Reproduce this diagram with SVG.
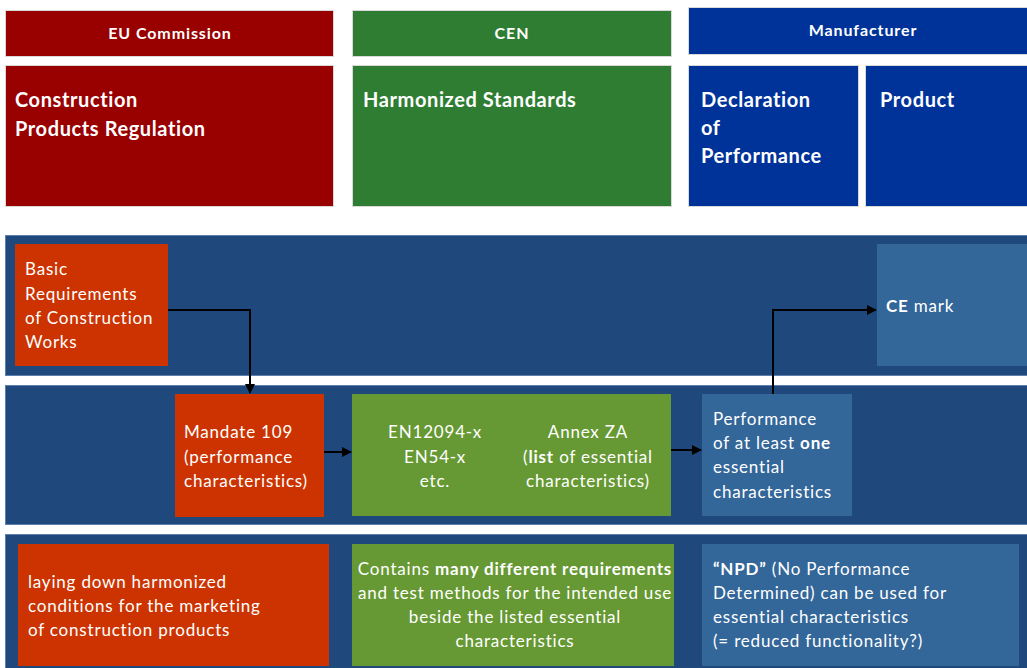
<svg xmlns="http://www.w3.org/2000/svg" width="1027" height="668" viewBox="0 0 1027 668">
<style>
.hd{font-family:Lato,"Liberation Sans",sans-serif;font-weight:bold;fill:#fff;font-size:16px;letter-spacing:0.9px}
.big{font-family:Lato,"Liberation Sans",sans-serif;font-weight:bold;fill:#fff;font-size:20px;letter-spacing:0.6px}
.t{font-family:Lato,"Liberation Sans",sans-serif;fill:#fff;font-size:17px;letter-spacing:0.8px}
.b{font-weight:bold}
.mid{text-anchor:middle}
.red{fill:#990000;stroke:#d9d9d9;stroke-width:1}
.grn{fill:#2e7d32;stroke:#d9d9d9;stroke-width:1}
.blu{fill:#003399;stroke:#d9d9d9;stroke-width:1}
.band{fill:#1f497d;stroke:#5d7fae;stroke-width:1}
.org{fill:#cc3300}
.lg{fill:#669933}
.lb{fill:#336699}
.conn{fill:none;stroke:#000;stroke-width:2}
</style>
<defs>
<marker id="ah" viewBox="0 0 10 10" refX="9" refY="5" markerWidth="5" markerHeight="5" orient="auto" markerUnits="strokeWidth">
<path d="M0,0 L10,5 L0,10 z" fill="#000"/>
</marker>
</defs>
<rect width="1027" height="668" fill="#fff"/>

<g id="eu-commission"><rect class="red" x="5.5" y="10.5" width="328" height="46"/><text class="hd mid" x="170" y="39">EU Commission</text></g>
<g id="cpr"><rect class="red" x="5.5" y="65.5" width="328" height="141"/><text class="big" x="15" y="107">Construction</text><text class="big" x="15" y="136">Products Regulation</text></g>
<g id="cen"><rect class="grn" x="352.5" y="10.5" width="319" height="46"/><text class="hd mid" x="512" y="39">CEN</text></g>
<g id="harmonized"><rect class="grn" x="352.5" y="65.5" width="319" height="141"/><text class="big" x="363" y="107">Harmonized Standards</text></g>
<g id="manufacturer"><rect class="blu" x="688.5" y="7.5" width="345" height="47"/><text class="hd mid" x="863" y="36">Manufacturer</text></g>
<g id="dop"><rect class="blu" x="688.5" y="65.5" width="170" height="141"/><text class="big" x="701" y="107">Declaration</text><text class="big" x="701" y="135">of</text><text class="big" x="701" y="163">Performance</text></g>
<g id="product"><rect class="blu" x="865.5" y="65.5" width="170" height="141"/><text class="big" x="880" y="107">Product</text></g>

<g id="band1"><rect class="band" x="5.5" y="235.5" width="1030" height="140"/></g>
<g id="band2"><rect class="band" x="5.5" y="385.5" width="1030" height="139"/></g>
<g id="band3"><rect class="band" x="5.5" y="534.5" width="1030" height="140"/></g>

<g id="basic-req"><rect class="org" x="15" y="244" width="153" height="122"/>
<text class="t" x="25" y="275">Basic</text><text class="t" x="25" y="300">Requirements</text><text class="t" x="25" y="324">of Construction</text><text class="t" x="25" y="348">Works</text></g>
<g id="ce-mark"><rect class="lb" x="877" y="244" width="150" height="122"/>
<text class="t" x="886" y="312"><tspan class="b">CE</tspan> mark</text></g>

<g id="mandate"><rect class="org" x="175" y="394" width="149" height="123"/>
<text class="t" x="184" y="438">Mandate 109</text><text class="t" x="184" y="463">(performance</text><text class="t" x="184" y="487">characteristics)</text></g>
<g id="en-standards"><rect class="lg" x="352" y="394" width="319" height="122"/>
<text class="t mid" x="435" y="438">EN12094-x</text><text class="t mid" x="435" y="463">EN54-x</text><text class="t mid" x="435" y="487">etc.</text>
<text class="t mid" x="588" y="438">Annex ZA</text><text class="t mid" x="588" y="463">(<tspan class="b">list</tspan> of essential</text><text class="t mid" x="588" y="487">characteristics)</text></g>
<g id="performance"><rect class="lb" x="702" y="394" width="150" height="122"/>
<text class="t" x="713" y="425">Performance</text><text class="t" x="713" y="449">of at least <tspan class="b">one</tspan></text><text class="t" x="713" y="473">essential</text><text class="t" x="713" y="498">characteristics</text></g>

<g id="laying-down"><rect class="org" x="18" y="544" width="311" height="122"/>
<text class="t" x="28" y="588">laying down harmonized</text><text class="t" x="28" y="612">conditions for the marketing</text><text class="t" x="28" y="636">of construction products</text></g>
<g id="contains"><rect class="lg" x="352" y="544" width="322" height="122"/>
<text class="t mid" x="515" y="575">Contains <tspan class="b">many different requirements</tspan></text><text class="t mid" x="515" y="599">and test methods for the intended use</text><text class="t mid" x="515" y="623">beside the listed essential</text><text class="t mid" x="515" y="647">characteristics</text></g>
<g id="npd"><rect class="lb" x="702" y="544" width="317" height="122"/>
<text class="t" x="713" y="575"><tspan class="b">“NPD”</tspan> (No Performance</text><text class="t" x="713" y="599">Determined) can be used for</text><text class="t" x="713" y="623">essential characteristics</text><text class="t" x="713" y="647">(= reduced functionality?)</text></g>

<g id="connectors">
<path class="conn" d="M168,310 H250 V393" marker-end="url(#ah)"/>
<path class="conn" d="M324,452 H351" marker-end="url(#ah)"/>
<path class="conn" d="M671,450 H701" marker-end="url(#ah)"/>
<path class="conn" d="M773,394 V310 H876" marker-end="url(#ah)"/>
</g>
</svg>
